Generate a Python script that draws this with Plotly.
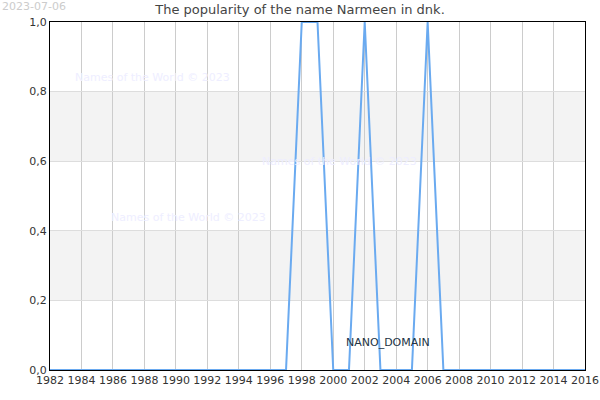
import plotly.graph_objects as go

years = list(range(1982, 2017))
values = [0] * len(years)
for y in (1998, 1999, 2002, 2006):
    values[years.index(y)] = 1

ytick_vals = [0, 0.2, 0.4, 0.6, 0.8, 1.0]
ytick_text = ["0,0", "0,2", "0,4", "0,6", "0,8", "1,0"]
watermarks = [(1988.5, 0.84), (2000.4, 0.60), (1990.8, 0.437)]

fig = go.Figure(go.Scatter(x=years, y=values, mode="lines",
                           line=dict(color="#6aaaf0", width=2), hoverinfo="skip"))

shapes = [dict(type="rect", xref="paper", x0=0, x1=1, yref="y", y0=a, y1=a + 0.2,
               fillcolor="#f3f3f3", line_width=0, layer="below") for a in (0.2, 0.6)]

ann = [dict(x=x, y=y, text="Names of the World © 2023", showarrow=False,
            font=dict(color="#eeeeff", size=11)) for x, y in watermarks]
ann.append(dict(x=2003.5, y=0.078, text="NANO_DOMAIN", showarrow=False,
                font=dict(color="#223344", size=11)))
ann.append(dict(xref="paper", yref="paper", x=-0.093, y=1.045, xanchor="left", yanchor="middle",
                text="2023-07-06", showarrow=False, font=dict(color="#cccccc", size=11)))

fig.update_layout(
    width=600, height=400, margin=dict(l=50, r=15, t=22, b=30, autoexpand=False),
    paper_bgcolor="white", plot_bgcolor="white",
    font=dict(family="DejaVu Sans", size=11, color="#333"),
    title=dict(text="The popularity of the name Narmeen in dnk.", x=0.5, y=0.987,
               font=dict(size=13, color="#444")),
    shapes=shapes, annotations=ann, showlegend=False,
    xaxis=dict(range=[1982, 2016], tickvals=list(range(1982, 2017, 2)),
               showgrid=True, gridcolor="#cccccc", automargin=False,
               showline=True, linecolor="black", mirror=True, zeroline=False, ticks=""),
    yaxis=dict(range=[0, 1], tickvals=ytick_vals, ticktext=ytick_text, automargin=False,
               showgrid=True, gridcolor="#dddddd",
               showline=True, linecolor="black", mirror=True, zeroline=False),
)
fig.write_html("out.html", config={"displayModeBar": False},
               post_script="document.body.style.margin='0';")
